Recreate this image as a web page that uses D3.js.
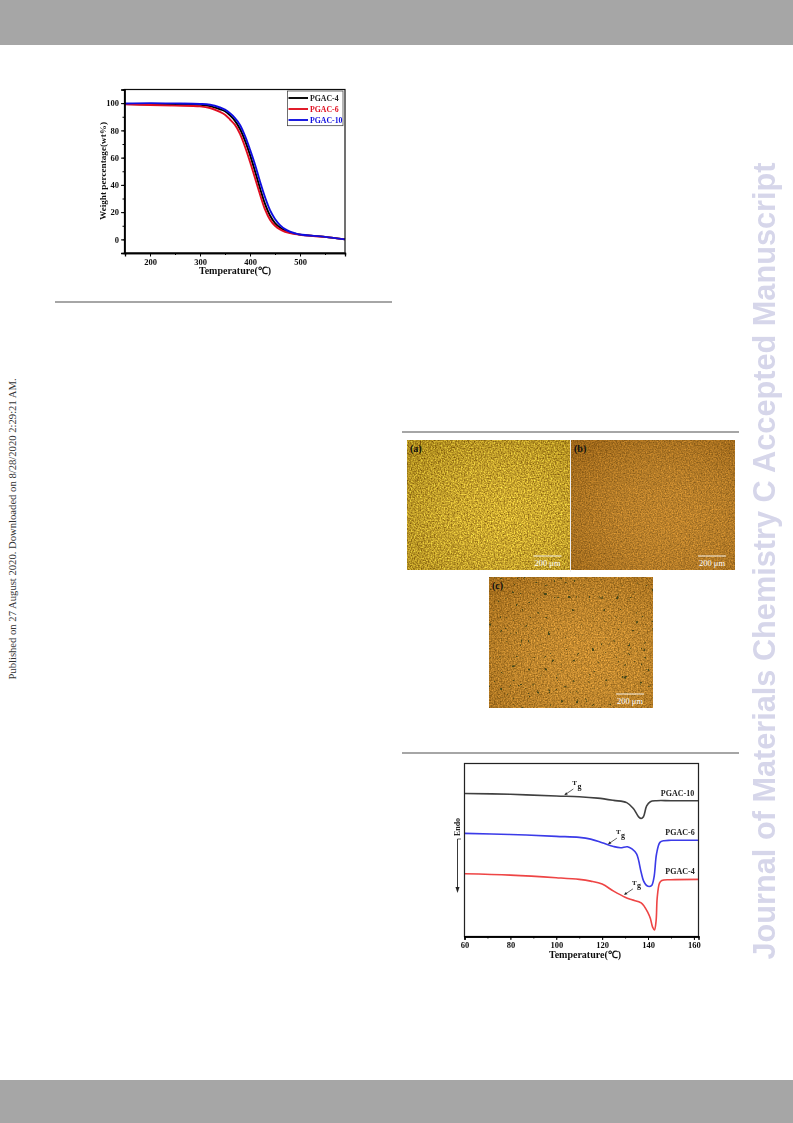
<!DOCTYPE html>
<html><head><meta charset="utf-8">
<style>html,body{margin:0;padding:0;background:#fff}svg{display:block}
text{font-family:"Liberation Serif",serif}
.b{font-weight:bold}
</style>
<script src="https://cdn.jsdelivr.net/npm/d3@7"></script></head><body>
<div id="c"></div>
<script>
const tgaNames=["PGAC-4","PGAC-6","PGAC-10"];
const tgaColors=["#000000","#e01020","#1010e0"];
const tgaT=[150,200,250,300,320,340,350,360,370,380,390,400,410,420,430,440,450,460,470,480,490,500,550,590];
const tga4=[99.3,99.1,99,98.8,97.8,95.5,94,91,87,81,72.5,62,50,37.5,26,17.5,12,8.7,6.5,5,4.2,3.5,1.8,0];
const tga6=[99.2,98.6,98.2,97.6,96.4,93.5,91.5,88,84,77.5,68,57,45,33,22,14.5,10,7.3,5.6,4.6,3.9,3.4,1.8,0];
const tga10=[99.7,100,99.8,99.4,98.8,96.8,95.2,92.5,89,84,76,66,55,42.5,31,21.5,15,10.5,7.5,5.6,4.5,3.6,1.8,0];
const dscNames=["PGAC-10","PGAC-6","PGAC-4"];
const dscColors=["#404040","#3a3ae8","#ee4444"];
const dsc10T=[60,80,100,110,118,125,130.7,133.6,135,136,137,138,139.4,141,143.7,150,162];
const dsc10=[82.7,82.2,81.2,80.8,80,78.7,77.4,74,71,69,68.2,69.2,75.5,77.9,78.5,78.5,78.5];
const dsc6T=[60,80,100,110,115,120,125,128,131,133,135,137,138,139,140,141.5,142.6,143.7,145.2,147,150,162];
const dsc6=[59.6,59,57.9,57.3,56.3,54.2,52,51.3,51.9,50.6,47.7,37.1,32.3,30,29,29.4,34.2,47.7,54.4,55.4,55.6,55.6];
const dsc4T=[60,80,100,110,115,120,125,130,133,137,140,141,142,142.8,143.5,144,145,146,150,162];
const dsc4=[36.3,35.5,34,33,32,30.3,26.2,22.7,21.2,19.4,13.7,10.5,5.4,3.8,8.8,22.3,30.9,32.4,32.8,33];
const panelLabels=["(a)","(b)","(c)"];
const scaleLabel="200 μm";

const W=793,H=1123;
const svg=d3.select("#c").append("svg").attr("width",W).attr("height",H).attr("viewBox",`0 0 ${W} ${H}`);
const defs=svg.append("defs");
[["soft",0.45]].forEach(s=>defs.append("filter").attr("id",s[0]).attr("x","-5%").attr("y","-5%").attr("width","110%").attr("height","110%")
  .append("feGaussianBlur").attr("stdDeviation",s[1]));
function noise(id,seed,dark,bright,gain,freq){
  const f=defs.append("filter").attr("id",id).attr("x",0).attr("y",0).attr("width","100%").attr("height","100%")
    .attr("color-interpolation-filters","sRGB");
  f.append("feTurbulence").attr("type","fractalNoise").attr("baseFrequency",freq).attr("numOctaves",2).attr("seed",seed);
  const row=i=>{const d=(bright[i]-dark[i])/255*gain,m=(bright[i]+dark[i])/2/255;return `${d} 0 0 0 ${m-d*0.5}`;};
  f.append("feColorMatrix").attr("type","matrix").attr("values",`${row(0)} ${row(1)} ${row(2)} 0 0 0 0 1`);
  f.append("feGaussianBlur").attr("stdDeviation",0.5);
  f.append("feComposite").attr("in2","SourceGraphic").attr("operator","in");
}
noise("nA",3,[150,110,15],[255,220,60],2.1,0.7);
noise("nB",8,[140,90,20],[225,150,45],1.8,0.75);
noise("nC",14,[145,95,20],[240,165,55],1.9,0.7);
const sp=defs.append("filter").attr("id","spots").attr("x",0).attr("y",0).attr("width","100%").attr("height","100%").attr("color-interpolation-filters","sRGB");
sp.append("feTurbulence").attr("type","fractalNoise").attr("baseFrequency",0.25).attr("numOctaves",2).attr("seed",21);
sp.append("feColorMatrix").attr("type","matrix").attr("values","0 0 0 0 0.27  0 0 0 0 0.28  0 0 0 0 0.1  14 0 0 0 -10");
sp.append("feGaussianBlur").attr("stdDeviation",0.5);
const rg=defs.append("radialGradient").attr("id","vig").attr("cx","60%").attr("cy","60%").attr("r","75%");
rg.append("stop").attr("offset","0%").attr("stop-color","#fff0a0").attr("stop-opacity",0.08);
rg.append("stop").attr("offset","100%").attr("stop-color","#402800").attr("stop-opacity",0.2);

// page furniture
svg.append("rect").attr("x",0).attr("y",0).attr("width",W).attr("height",45).attr("fill","#a6a6a6");
svg.append("rect").attr("x",0).attr("y",1080).attr("width",W).attr("height",43).attr("fill","#a6a6a6");
[[55,392,302],[402,739,432],[402,739,753]].forEach(r=>svg.append("rect").attr("x",r[0]).attr("y",r[2]-1).attr("width",r[1]-r[0]).attr("height",2).attr("fill","#a6a6a6"));
svg.append("text").attr("transform","translate(16,529) rotate(-90)").attr("text-anchor","middle")
  .attr("font-size",10.65).attr("fill","#333").text("Published on 27 August 2020. Downloaded on 8/28/2020 2:29:21 AM.");
svg.append("text").attr("transform","translate(775,561) rotate(-90)").attr("text-anchor","middle")
  .attr("filter","url(#soft)").style("font-family","'Liberation Sans',sans-serif").attr("font-weight","bold").attr("font-size",30.7)
  .attr("fill","#d6d6ea").text("Journal of Materials Chemistry C Accepted Manuscript");

function axes(g,x,y,m,xMajor,xMinor,yMajor,yMinor){
  const ax=g.append("g").attr("transform",`translate(0,${m.b})`);
  ax.call(d3.axisBottom(x).tickValues(xMinor).tickSize(2).tickFormat(""));
  const ax2=g.append("g").attr("transform",`translate(0,${m.b})`);
  ax2.call(d3.axisBottom(x).tickValues(xMajor).tickSize(3.5).tickPadding(2));
  [ax,ax2].forEach(a=>{a.select(".domain").attr("stroke-width",1.3);a.selectAll("line").attr("stroke-width",1);});
  ax2.selectAll("text").attr("class","b").style("font-family","'Liberation Serif',serif").attr("font-size",8.5).attr("fill","#111");
  if(y){
    const ay=g.append("g").attr("transform",`translate(${m.l},0)`);
    ay.call(d3.axisLeft(y).tickValues(yMinor).tickSize(2).tickFormat(""));
    const ay2=g.append("g").attr("transform",`translate(${m.l},0)`);
    ay2.call(d3.axisLeft(y).tickValues(yMajor).tickSize(3.5).tickPadding(2));
    [ay,ay2].forEach(a=>{a.select(".domain").attr("stroke-width",1.3);a.selectAll("line").attr("stroke-width",1);});
    ay2.selectAll("text").attr("class","b").style("font-family","'Liberation Serif',serif").attr("font-size",8.5).attr("fill","#111");
  }
}

// TGA
{
  const m={l:124.5,r:345,t:89.5,b:253};
  const g=svg.append("g").attr("filter","url(#soft)");
  const x=d3.scaleLinear().domain([150,590]).range([125,345]);
  const y=d3.scaleLinear().domain([-10,110]).range([m.b,m.t]);
  const line=d3.line().x(d=>x(d[0])).y(d=>y(d[1])).curve(d3.curveCatmullRom.alpha(0.5));
  [tga4,tga6,tga10].forEach((s,i)=>g.append("path").attr("d",line(tgaT.map((t,j)=>[t,s[j]]))).attr("fill","none").attr("stroke",tgaColors[i]).attr("stroke-width",1.9));
  g.append("rect").attr("x",m.l).attr("y",m.t).attr("width",m.r-m.l).attr("height",m.b-m.t).attr("fill","none").attr("stroke","#111").attr("stroke-width",1.2);
  axes(g,x,y,m,[200,300,400,500],d3.range(150,590,50),d3.range(0,101,20),d3.range(-10,111,10));
  g.append("text").attr("class","b").attr("x",235).attr("y",274).attr("text-anchor","middle").attr("font-size",10).attr("fill","#111").text("Temperature(℃)");
  g.append("text").attr("class","b").attr("transform","translate(105.5,171) rotate(-90)").attr("text-anchor","middle").attr("font-size",9.2).attr("fill","#111").text("Weight percentage(wt%)");
  g.append("rect").attr("x",287.5).attr("y",91).attr("width",55.5).attr("height",34.7).attr("fill","#fff").attr("stroke","#333").attr("stroke-width",.7);
  tgaNames.forEach((n,i)=>{
    const ly=98+i*11;
    g.append("line").attr("x1",288.5).attr("x2",308).attr("y1",ly).attr("y2",ly).attr("stroke",tgaColors[i]).attr("stroke-width",1.9);
    g.append("text").attr("class","b").attr("x",310).attr("y",ly+2.7).attr("font-size",7.8).attr("fill",i==0?"#222":tgaColors[i]).text(n);
  });
}

// Micrographs
{
  const panels=[[407,440,163.5,130,"nA"],[571,440,164,130,"nB"],[489,577,164,131,"nC"]];
  panels.forEach((p,i)=>{
    const g=svg.append("g");
    g.append("rect").attr("x",p[0]).attr("y",p[1]).attr("width",p[2]).attr("height",p[3]).attr("filter",`url(#${p[4]})`);
    g.append("rect").attr("x",p[0]).attr("y",p[1]).attr("width",p[2]).attr("height",p[3]).attr("fill","url(#vig)");
    if(i==2) g.append("rect").attr("x",p[0]).attr("y",p[1]).attr("width",p[2]).attr("height",p[3]).attr("filter","url(#spots)");
    g.append("text").attr("class","b").attr("x",p[0]+3).attr("y",p[1]+12).attr("font-size",10).attr("fill","#111").text(panelLabels[i]);
    const bx=p[0]+p[2]-37, by=p[1]+p[3]-14;
    g.append("line").attr("x1",bx).attr("x2",bx+28).attr("y1",by).attr("y2",by).attr("stroke","#fff").attr("stroke-width",.9);
    g.append("text").attr("x",bx+14).attr("y",by+9.5).attr("text-anchor","middle").attr("font-size",8.5).attr("fill","#fff").text(scaleLabel);
  });
  svg.append("line").attr("x1",570.5).attr("x2",570.5).attr("y1",440).attr("y2",572).attr("stroke","#eee").attr("stroke-width",1);
}

// DSC
{
  const m={l:464.5,r:698.5,t:763.5,b:936.5};
  const g=svg.append("g").attr("filter","url(#soft)");
  const x=d3.scaleLinear().domain([60,162]).range([464.5,698.5]);
  const y=d3.scaleLinear().domain([0,100]).range([m.b,m.t]);
  const line=d3.line().x(d=>x(d[0])).y(d=>y(d[1])).curve(d3.curveCatmullRom.alpha(0.5));
  [[dsc10T,dsc10],[dsc6T,dsc6],[dsc4T,dsc4]].forEach((s,i)=>g.append("path").attr("d",line(s[0].map((t,j)=>[t,s[1][j]]))).attr("fill","none").attr("stroke",dscColors[i]).attr("stroke-width",1.6));
  g.append("rect").attr("x",m.l).attr("y",m.t).attr("width",m.r-m.l).attr("height",m.b-m.t).attr("fill","none").attr("stroke","#222").attr("stroke-width",1.2);
  axes(g,x,null,m,d3.range(60,161,20),d3.range(60,161,10));
  g.append("text").attr("class","b").attr("x",585).attr("y",958).attr("text-anchor","middle").attr("font-size",10).attr("fill","#111").text("Temperature(℃)");
  [[677.5,[...dsc10].pop(),"PGAC-10",-4.5],[680,[...dsc6].pop(),"PGAC-6",-5],[680,[...dsc4].pop(),"PGAC-4",-5]].forEach(d=>{
    g.append("text").attr("class","b").attr("x",d[0]).attr("y",y(d[1])+d[3]).attr("text-anchor","middle").attr("font-size",8).attr("fill","#222").text(d[2]);
  });
  // Tg annotations
  [[103.5,81.2],[122.5,52.8],[129.5,23.5]].forEach(d=>{
    const tx=x(d[0]),ty=y(d[1])-1;
    g.append("line").attr("x1",tx+9).attr("y1",ty-6).attr("x2",tx+1).attr("y2",ty-.5).attr("stroke","#222").attr("stroke-width",.7);
    g.append("path").attr("d",`M${tx},${ty} l3.5,-0.6 l-1.6,-2.2z`).attr("fill","#222");
    const t=g.append("text").attr("class","b").attr("x",tx+8).attr("y",ty-10).attr("font-size",7).attr("fill","#222");
    t.append("tspan").text("T");
    t.append("tspan").attr("dx",.5).attr("dy",3.5).attr("font-size",8).text("g");
  });
  // Endo arrow
  g.append("text").attr("class","b").attr("transform","translate(460,827) rotate(-90)").attr("text-anchor","middle").attr("font-size",8).attr("fill","#222").text("Endo");
  g.append("line").attr("x1",457.5).attr("x2",457.5).attr("y1",839).attr("y2",889).attr("stroke","#222").attr("stroke-width",.9);
  g.append("line").attr("x1",457.5).attr("x2",461).attr("y1",839).attr("y2",839).attr("stroke","#222").attr("stroke-width",.7);
  g.append("path").attr("d","M457.5,893 l-2,-6 h4z").attr("fill","#222");
}
</script></body></html>
